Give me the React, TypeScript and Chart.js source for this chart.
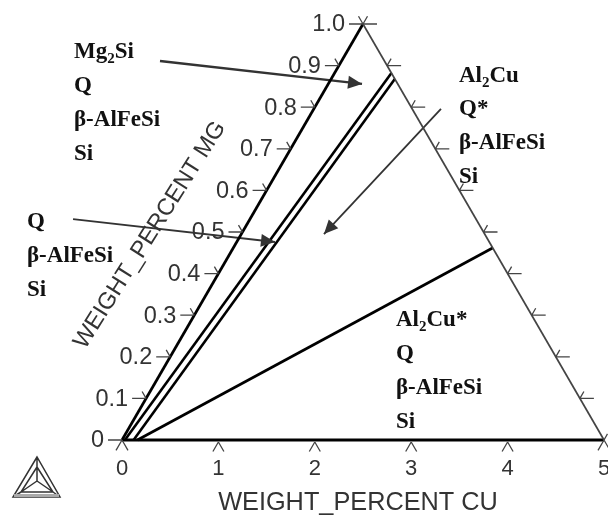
import React, { useEffect, useRef } from "react";
import { Chart, registerables } from "chart.js";

Chart.register(...registerables);

// Ternary values: [WEIGHT_PERCENT CU, WEIGHT_PERCENT MG]
const baseEdgeCu = [0, 5];
const baseEdgeMg = [0, 0];
const leftEdgeCu = [0, 0];
const leftEdgeMg = [0, 1];
const rightEdgeCu = [0, 5];
const rightEdgeMg = [1, 0];
const boundaryACu = [0.03, 0.59];
const boundaryAMg = [0, 0.882];
const boundaryBCu = [0.12, 0.66];
const boundaryBMg = [0, 0.868];
const boundaryCCu = [0.16, 2.69];
const boundaryCMg = [0, 0.4615];

const cuTicks = [1, 2, 3, 4];
const mgTicks = [0.1, 0.2, 0.3, 0.4, 0.5, 0.6, 0.7, 0.8, 0.9];
const mgTickLabels = ["0", "0.1", "0.2", "0.3", "0.4", "0.5", "0.6", "0.7", "0.8", "0.9", "1.0"];

// Leader arrows in plot space: horizontal position, MG
const arrowOneX = [0.394, 2.49];
const arrowOneY = [0.911, 0.856];
const arrowTwoX = [-0.508, 1.587];
const arrowTwoY = [0.531, 0.476];
const arrowThreeX = [3.309, 2.095];
const arrowThreeY = [0.796, 0.495];

// Phase labels: [text, subscript, tail]
const phaseTopLeft = [["Mg", "2", "Si"], ["Q"], ["β-AlFeSi"], ["Si"]];
const phaseMidLeft = [["Q"], ["β-AlFeSi"], ["Si"]];
const phaseTopRight = [["Al", "2", "Cu"], ["Q*"], ["β-AlFeSi"], ["Si"]];
const phaseBottom = [["Al", "2", "Cu*"], ["Q"], ["β-AlFeSi"], ["Si"]];

const xTitle = "WEIGHT_PERCENT CU";
const yTitle = "WEIGHT_PERCENT MG";

const plotX = (cu: number, mg: number) => cu + mg * 2.5;
const ternary = (cu: number[], mg: number[]) => cu.map((c, i) => ({ x: plotX(c, mg[i]), y: mg[i] }));
const plain = (xs: number[], ys: number[]) => xs.map((x, i) => ({ x, y: ys[i] }));

const line = (data: { x: number; y: number }[], color: string, width: number) => ({
  type: "scatter" as const,
  showLine: true,
  data,
  borderColor: color,
  borderWidth: width,
  pointRadius: 0,
  clip: false as const,
  borderCapStyle: "butt" as const,
});

const SANS = '"Liberation Sans", Arial, sans-serif';
const SERIF = '"Liberation Serif", "Times New Roman", serif';
const INK = "#333";
const DIR = (deg: number) => [Math.cos((deg * Math.PI) / 180), -Math.sin((deg * Math.PI) / 180)];

const overlay = {
  id: "ternaryOverlay",
  afterDatasetsDraw(chart: any) {
    const { ctx } = chart;
    const sx = chart.scales.x;
    const sy = chart.scales.y;
    const px = (cu: number, mg: number) => sx.getPixelForValue(plotX(cu, mg));
    const py = (mg: number) => sy.getPixelForValue(mg);

    const rays = (x: number, y: number, list: [number, number][]) => {
      ctx.beginPath();
      for (const [deg, len] of list) {
        const [dx, dy] = DIR(deg);
        ctx.moveTo(x, y);
        ctx.lineTo(x + dx * len, y + dy * len);
      }
      ctx.stroke();
    };

    ctx.save();
    ctx.strokeStyle = "#444";
    ctx.lineWidth = 1.3;

    // ticks
    for (const c of cuTicks) rays(sx.getPixelForValue(c), py(0) + 2, [[240, 11], [300, 11]]);
    for (const m of mgTicks) {
      rays(px(0, m), py(m), [[180, 14], [120, 8]]);
      rays(px(5 * (1 - m), m), py(m), [[0, 14], [60, 8]]);
    }
    rays(px(0, 0), py(0), [[180, 14], [240, 12], [300, 12]]);
    rays(px(0, 1), py(1), [[180, 14], [0, 14], [120, 9], [60, 9]]);
    rays(px(5, 0), py(0), [[240, 12], [300, 9], [60, 7]]);

    // MG tick labels
    ctx.fillStyle = INK;
    ctx.font = `23.5px ${SANS}`;
    ctx.textAlign = "right";
    ctx.textBaseline = "middle";
    mgTickLabels.forEach((t, i) => {
      const m = i / 10;
      ctx.fillText(t, px(0, m) - 18, py(m) + 1);
    });

    // arrows
    const arrow = (xs: number[], ys: number[]) => {
      const x1 = sx.getPixelForValue(xs[1]);
      const y1 = sy.getPixelForValue(ys[1]);
      const x0 = sx.getPixelForValue(xs[0]);
      const y0 = sy.getPixelForValue(ys[0]);
      const a = Math.atan2(y1 - y0, x1 - x0);
      const L = 14;
      const W = 6.5;
      ctx.fillStyle = INK;
      ctx.beginPath();
      ctx.moveTo(x1, y1);
      ctx.lineTo(x1 - L * Math.cos(a) - W * Math.sin(a), y1 - L * Math.sin(a) + W * Math.cos(a));
      ctx.lineTo(x1 - L * Math.cos(a) + W * Math.sin(a), y1 - L * Math.sin(a) - W * Math.cos(a));
      ctx.closePath();
      ctx.fill();
    };
    arrow(arrowOneX, arrowOneY);
    arrow(arrowTwoX, arrowTwoY);
    arrow(arrowThreeX, arrowThreeY);

    // phase labels
    ctx.fillStyle = "#111";
    ctx.textAlign = "left";
    ctx.textBaseline = "alphabetic";
    const block = (rows: string[][], x: number, baselines: number[]) => {
      rows.forEach((r, i) => {
        let cx = x;
        ctx.font = `bold 23px ${SERIF}`;
        ctx.fillText(r[0], cx, baselines[i]);
        cx += ctx.measureText(r[0]).width;
        if (r.length > 1) {
          ctx.font = `bold 15px ${SERIF}`;
          ctx.fillText(r[1], cx, baselines[i] + 5);
          cx += ctx.measureText(r[1]).width;
          ctx.font = `bold 23px ${SERIF}`;
          ctx.fillText(r[2], cx, baselines[i]);
        }
      });
    };
    block(phaseTopLeft, 74, [58, 92, 126, 160]);
    block(phaseMidLeft, 27, [228, 262, 296]);
    block(phaseTopRight, 459, [82, 115, 149, 183]);
    block(phaseBottom, 396, [326, 360, 394, 428]);

    // axis titles
    ctx.fillStyle = INK;
    ctx.font = `25.3px ${SANS}`;
    ctx.textAlign = "center";
    ctx.textBaseline = "middle";
    ctx.fillText(xTitle, 358, 503);
    ctx.save();
    ctx.translate(150, 235);
    ctx.rotate((-57.7 * Math.PI) / 180);
    ctx.font = `23.5px ${SANS}`;
    ctx.fillText(yTitle, 0, 0);
    ctx.restore();

    // logo
    ctx.strokeStyle = "#333";
    ctx.lineWidth = 1.5;
    const outer = [[37, 457], [13, 497], [60, 497]];
    const inner = [[37, 467], [21, 492], [53, 492]];
    const mid = [37, 481];
    ctx.beginPath();
    outer.forEach((p, i) => (i ? ctx.lineTo(p[0], p[1]) : ctx.moveTo(p[0], p[1])));
    ctx.closePath();
    inner.forEach((p, i) => (i ? ctx.lineTo(p[0], p[1]) : ctx.moveTo(p[0], p[1])));
    ctx.closePath();
    inner.forEach((p, i) => {
      ctx.moveTo(mid[0], mid[1]);
      ctx.lineTo(p[0], p[1]);
      ctx.moveTo(outer[i][0], outer[i][1]);
      ctx.lineTo(p[0], p[1]);
    });
    ctx.stroke();
    ctx.fillStyle = "#aaa";
    ctx.fillRect(14, 494, 45, 3);
    ctx.restore();
  },
};

export default function App() {
  const ref = useRef<HTMLCanvasElement>(null);
  useEffect(() => {
    const chart = new Chart(ref.current as HTMLCanvasElement, {
      type: "scatter",
      data: {
        datasets: [
          line(ternary(rightEdgeCu, rightEdgeMg), "#444", 1.7),
          line(ternary(leftEdgeCu, leftEdgeMg), "#000", 2.7),
          line(ternary(baseEdgeCu, baseEdgeMg), "#000", 3.2),
          line(ternary(boundaryACu, boundaryAMg), "#000", 2.6),
          line(ternary(boundaryBCu, boundaryBMg), "#000", 2.6),
          line(ternary(boundaryCCu, boundaryCMg), "#000", 2.7),
          line(plain(arrowOneX, arrowOneY), "#333", 2.4),
          line(plain(arrowTwoX, arrowTwoY), "#333", 1.8),
          line(plain(arrowThreeX, arrowThreeY), "#333", 1.8),
        ] as any,
      },
      options: {
        animation: false,
        responsive: false,
        layout: { padding: { left: 122, right: 4, top: 24, bottom: 0 } },
        plugins: { legend: { display: false }, tooltip: { enabled: false } },
        scales: {
          x: {
            type: "linear",
            min: 0,
            max: 5,
            grid: { display: false },
            border: { display: false },
            ticks: {
              stepSize: 1,
              maxRotation: 0,
              padding: 8,
              color: INK,
              font: { family: SANS, size: 22 },
            },
            afterFit(scale: any) {
              scale.height = 77;
              scale.paddingLeft = 0;
              scale.paddingRight = 0;
            },
          },
          y: { type: "linear", min: 0, max: 1, display: false },
        },
      } as any,
      plugins: [overlay],
    });
    return () => chart.destroy();
  }, []);
  return (
    <div style={{ position: "absolute", left: 0, top: 0, width: 608, height: 517, background: "#fff", overflow: "hidden" }}>
      <canvas ref={ref} width={608} height={517} style={{ display: "block", filter: "blur(0.4px)" }} />
    </div>
  );
}
